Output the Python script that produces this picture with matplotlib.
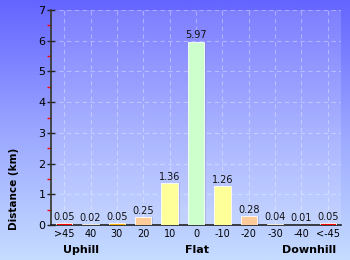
import numpy as np
import matplotlib.pyplot as plt
from matplotlib.colors import LinearSegmentedColormap

# Data
categories = [">45", "40", "30", "20", "10", "0", "-10", "-20", "-30", "-40", "<-45"]
distances = [0.05, 0.02, 0.05, 0.25, 1.36, 5.97, 1.26, 0.28, 0.04, 0.01, 0.05]
value_labels = ["0.05", "0.02", "0.05", "0.25", "1.36", "5.97", "1.26", "0.28", "0.04", "0.01", "0.05"]
bar_colors = ["#ff0000", "#ff8c1a", "#ffb000", "#ffcc99", "#ffff99", "#ccffcc",
              "#ffff99", "#ffcc99", "#ffb000", "#ff8c1a", "#ff0000"]
groups = ["Uphill", "Flat", "Downhill"]
group_pos = [0.65, 5.05, 9.3]

fig = plt.figure(figsize=(3.5, 2.6), dpi=100)

# gradient background over the whole figure
bg = fig.add_axes([0, 0, 1, 1], zorder=0)
cmap = LinearSegmentedColormap.from_list("bg", ["#6464ff", "#9aa6ff", "#c6dcff"])
grad = np.linspace(0, 1, 256).reshape(-1, 1)
bg.imshow(grad, aspect="auto", cmap=cmap, extent=[0, 1, 0, 1], origin="upper")
bg.axis("off")

ax = fig.add_axes([51 / 350, 35 / 260, 290 / 350, 215 / 260], zorder=1)
ax.set_facecolor((1, 1, 1, 0.15))

x = np.arange(len(categories))
ax.bar(x + 0.07, distances, width=0.62, color="#8080a0", alpha=0.3, zorder=2)
ax.bar(x, distances, width=0.62, color=bar_colors, edgecolor="white", linewidth=0.6, zorder=3)

for xi, d, lab in zip(x, distances, value_labels):
    ax.text(xi, d + 0.05, lab, ha="center", va="bottom", fontsize=7, color="#111111", zorder=4)

ax.set_xlim(-0.5, 10.5)
ax.set_ylim(0, 7)
ax.set_xticks(x)
ax.set_xticklabels(categories, fontsize=7)
ax.set_yticks(range(8))
ax.set_yticklabels([str(i) for i in range(8)], fontsize=8)
ax.set_yticks(np.arange(0.5, 7, 1), minor=True)

for xi in x:
    ax.axvline(xi, color="white", alpha=0.35, linestyle=(0, (4, 3)), linewidth=0.8, zorder=1)
for yi in range(1, 8):
    ax.axhline(yi, color="white", alpha=0.35, linestyle=(0, (4, 3)), linewidth=0.8, zorder=1)

ax.tick_params(axis="y", which="major", direction="inout", length=6, width=1, color="#222222", pad=1)
ax.tick_params(axis="y", which="minor", direction="out", length=3, width=1, color="red")
ax.tick_params(axis="x", length=0, pad=3)
for s in ["top", "right"]:
    ax.spines[s].set_visible(False)
ax.spines["left"].set_color("#333322")
ax.spines["bottom"].set_color("#222222")
ax.spines["left"].set_linewidth(1.2)
ax.spines["bottom"].set_linewidth(1.2)

ax.set_ylabel("Distance (km)", fontsize=7.5, fontweight="bold")
ax.yaxis.set_label_coords(-0.112, 0.17)

for g, gx in zip(groups, group_pos):
    ax.text(gx, -0.092, g, transform=ax.get_xaxis_transform(), ha="center", va="top",
            fontsize=8, fontweight="bold")

fig.savefig("out.png", dpi=100)
